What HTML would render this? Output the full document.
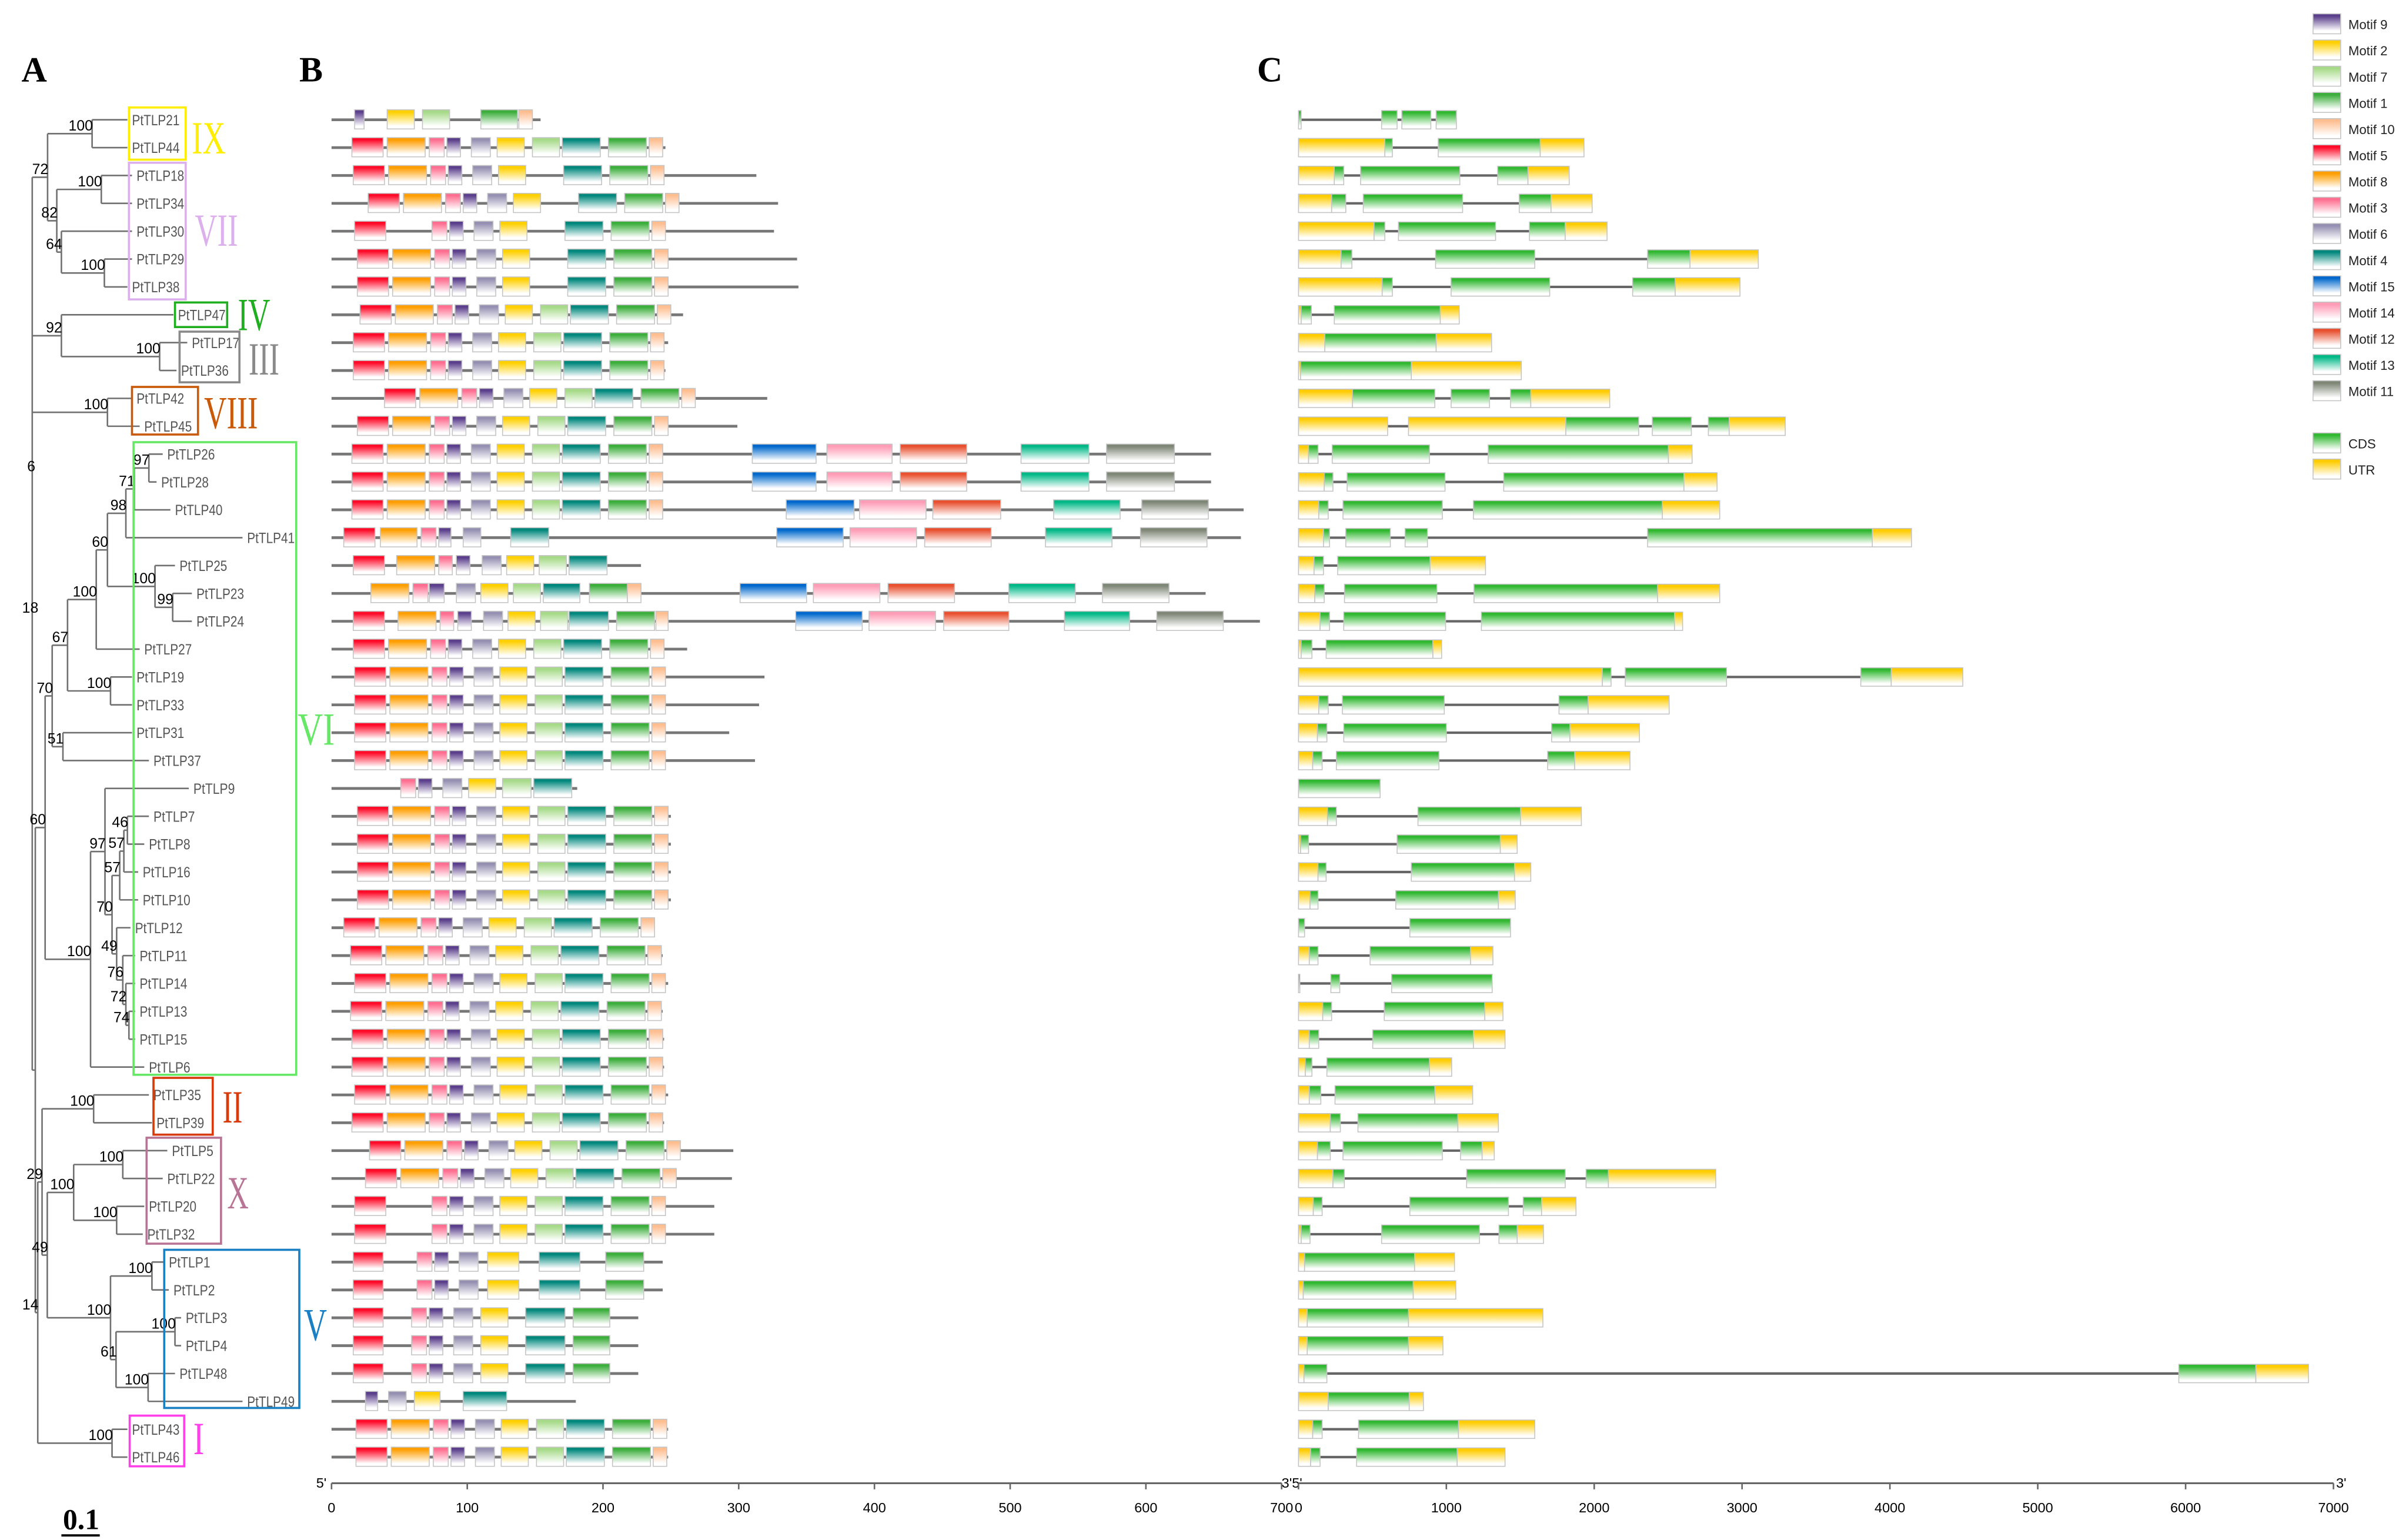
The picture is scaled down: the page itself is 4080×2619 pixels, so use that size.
<!DOCTYPE html>
<html><head><meta charset="utf-8"><title>PtTLP phylogeny, motifs and gene structure</title>
<style>
html,body{margin:0;padding:0;background:#fff;}
svg{display:block;}
</style></head>
<body>
<svg id="fig" xmlns="http://www.w3.org/2000/svg" width="4080" height="2619" viewBox="0 0 1563 1003" preserveAspectRatio="none" font-family="Liberation Sans, sans-serif">
<defs id="defs"></defs>
<rect x="0" y="0" width="1563" height="1003" fill="#fff"/>
<g id="panelA"></g>
<g id="panelB"></g>
<g id="panelC"></g>
<g id="legend"></g>
<text x="14" y="53" font-family="Liberation Serif, serif" font-weight="bold" font-size="23">A</text>
<text x="195" y="53" font-family="Liberation Serif, serif" font-weight="bold" font-size="23">B</text>
<text x="819" y="53" font-family="Liberation Serif, serif" font-weight="bold" font-size="23">C</text>
<text x="41" y="996" font-family="Liberation Serif, serif" font-weight="bold" font-size="19">0.1</text>
<line x1="40" y1="1000" x2="65" y2="1000" stroke="#000" stroke-width="1.5"/>
</svg>
<script>
const genes = ["PtTLP21","PtTLP44","PtTLP18","PtTLP34","PtTLP30","PtTLP29","PtTLP38","PtTLP47","PtTLP17","PtTLP36","PtTLP42","PtTLP45","PtTLP26","PtTLP28","PtTLP40","PtTLP41","PtTLP25","PtTLP23","PtTLP24","PtTLP27","PtTLP19","PtTLP33","PtTLP31","PtTLP37","PtTLP9","PtTLP7","PtTLP8","PtTLP16","PtTLP10","PtTLP12","PtTLP11","PtTLP14","PtTLP13","PtTLP15","PtTLP6","PtTLP35","PtTLP39","PtTLP5","PtTLP22","PtTLP20","PtTLP32","PtTLP1","PtTLP2","PtTLP3","PtTLP4","PtTLP48","PtTLP49","PtTLP43","PtTLP46"];
const labelX = [86,86,89,89,89,89,86,116,125,118,89,94,109,105,114,161,117,128,128,94,89,89,89,100,126,100,97,93,93,88,91,91,91,91,97,100,102,112,109,97,96,110,113,121,121,117,161,86,86];
const protLen = [154,246,313,329,326,343,344,259,248,246,321,299,648,648,672,670,228,644,684,262,319,315,293,312,181,250,250,250,250,238,244,248,244,245,245,248,245,296,295,282,282,244,244,226,226,226,180,248,248];
const motifSets = [
"9:17-24 2:41-61 7:67-87 1:110-137 10:138-148",
"5:15-38 8:41-69 3:72-83 9:85-95 6:103-117 2:122-142 7:148-168 4:170-198 1:204-232 10:234-244",
"5:16-39 8:42-70 3:73-84 9:86-96 6:104-118 2:123-143 4:171-199 1:205-233 10:235-245",
"5:27-50 8:53-81 3:84-95 9:97-107 6:115-129 2:134-154 4:182-210 1:216-244 10:246-256",
"5:17-40 3:74-85 9:87-97 6:105-119 2:124-144 4:172-200 1:206-234 10:236-246",
"5:19-42 8:45-73 3:76-87 9:89-99 6:107-121 2:126-146 4:174-202 1:208-236 10:238-248",
"5:19-42 8:45-73 3:76-87 9:89-99 6:107-121 2:126-146 4:174-202 1:208-236 10:238-248",
"5:21-44 8:47-75 3:78-89 9:91-101 6:109-123 2:128-148 7:154-174 4:176-204 1:210-238 10:240-250",
"5:16-39 8:42-70 3:73-84 9:86-96 6:104-118 2:123-143 7:149-169 4:171-199 1:205-233 10:235-245",
"5:16-39 8:42-70 3:73-84 9:86-96 6:104-118 2:123-143 7:149-169 4:171-199 1:205-233 10:235-245",
"5:39-62 8:65-93 3:96-107 9:109-119 6:127-141 2:146-166 7:172-192 4:194-222 1:228-256 10:258-268",
"5:19-42 8:45-73 3:76-87 9:89-99 6:107-121 2:126-146 7:152-172 4:174-202 1:208-236 10:238-248",
"5:15-38 8:41-69 3:72-83 9:85-95 6:103-117 2:122-142 7:148-168 4:170-198 1:204-232 10:234-244 15:310-357 14:365-413 12:419-468 13:508-558 11:571-621",
"5:15-38 8:41-69 3:72-83 9:85-95 6:103-117 2:122-142 7:148-168 4:170-198 1:204-232 10:234-244 15:310-357 14:365-413 12:419-468 13:508-558 11:571-621",
"5:15-38 8:41-69 3:72-83 9:85-95 6:103-117 2:122-142 7:148-168 4:170-198 1:204-232 10:234-244 15:335-385 14:389-438 12:443-493 13:532-581 11:597-646",
"5:9-32 8:36-63 3:66-77 9:79-88 6:97-110 4:132-160 15:328-377 14:382-431 12:437-486 13:526-575 11:596-645",
"5:16-39 8:48-76 3:79-89 9:92-102 6:111-125 2:129-149 7:153-173 4:175-203",
"8:29-57 3:60-71 9:72-83 6:92-106 2:110-130 7:134-154 4:156-183 1:190-218 10:218-228 15:301-350 14:355-404 12:410-459 13:499-548 11:568-617",
"5:16-39 8:49-77 3:80-90 9:93-103 6:112-126 2:130-150 7:154-174 4:175-204 1:210-238 10:239-248 15:342-391 14:396-445 12:451-499 13:540-588 11:608-657",
"5:16-39 8:42-70 3:73-84 9:86-96 6:104-118 2:123-143 7:149-169 4:171-199 1:205-233 10:235-245",
"5:17-40 8:43-71 3:74-85 9:87-97 6:105-119 2:124-144 7:150-170 4:172-200 1:206-234 10:236-246",
"5:17-40 8:43-71 3:74-85 9:87-97 6:105-119 2:124-144 7:150-170 4:172-200 1:206-234 10:236-246",
"5:17-40 8:43-71 3:74-85 9:87-97 6:105-119 2:124-144 7:150-170 4:172-200 1:206-234 10:236-246",
"5:17-40 8:43-71 3:74-85 9:87-97 6:105-119 2:124-144 7:150-170 4:172-200 1:206-234 10:236-246",
"3:51-62 9:64-74 6:82-96 2:101-121 7:126-147 4:149-177",
"5:19-42 8:45-73 3:76-87 9:89-99 6:107-121 2:126-146 7:152-172 4:174-202 1:208-236 10:238-248",
"5:19-42 8:45-73 3:76-87 9:89-99 6:107-121 2:126-146 7:152-172 4:174-202 1:208-236 10:238-248",
"5:19-42 8:45-73 3:76-87 9:89-99 6:107-121 2:126-146 7:152-172 4:174-202 1:208-236 10:238-248",
"5:19-42 8:45-73 3:76-87 9:89-99 6:107-121 2:126-146 7:152-172 4:174-202 1:208-236 10:238-248",
"5:9-32 8:35-63 3:66-77 9:79-89 6:97-111 2:116-136 7:142-162 4:164-192 1:198-226 10:228-238",
"5:14-37 8:40-68 3:71-82 9:84-94 6:102-116 2:121-141 7:147-167 4:169-197 1:203-231 10:233-243",
"5:17-40 8:43-71 3:74-85 9:87-97 6:105-119 2:124-144 7:150-170 4:172-200 1:206-234 10:236-246",
"5:14-37 8:40-68 3:71-82 9:84-94 6:102-116 2:121-141 7:147-167 4:169-197 1:203-231 10:233-243",
"5:15-38 8:41-69 3:72-83 9:85-95 6:103-117 2:122-142 7:148-168 4:170-198 1:204-232 10:234-244",
"5:15-38 8:41-69 3:72-83 9:85-95 6:103-117 2:122-142 7:148-168 4:170-198 1:204-232 10:234-244",
"5:17-40 8:43-71 3:74-85 9:87-97 6:105-119 2:124-144 7:150-170 4:172-200 1:206-234 10:236-246",
"5:15-38 8:41-69 3:72-83 9:85-95 6:103-117 2:122-142 7:148-168 4:170-198 1:204-232 10:234-244",
"5:28-51 8:54-82 3:85-96 9:98-108 6:116-130 2:135-155 7:161-181 4:183-211 1:217-245 10:247-257",
"5:25-48 8:51-79 3:82-93 9:95-105 6:113-127 2:132-152 7:158-178 4:180-208 1:214-242 10:244-254",
"5:17-40 3:74-85 9:87-97 6:105-119 2:124-144 7:150-170 4:172-200 1:206-234 10:236-246",
"5:17-40 3:74-85 9:87-97 6:105-119 2:124-144 7:150-170 4:172-200 1:206-234 10:236-246",
"5:16-38 3:63-74 9:76-86 6:94-108 2:115-138 4:153-183 1:202-230",
"5:16-38 3:63-74 9:76-86 6:94-108 2:115-138 4:153-183 1:202-230",
"5:16-38 3:59-70 9:72-82 6:90-104 2:110-130 4:143-172 1:178-205",
"5:16-38 3:59-70 9:72-82 6:90-104 2:110-130 4:143-172 1:178-205",
"5:16-38 3:59-70 9:72-82 6:90-104 2:110-130 4:143-172 1:178-205",
"9:25-34 6:42-55 2:61-80 4:97-129",
"5:18-41 8:44-72 3:75-86 9:88-98 6:106-120 2:125-145 7:151-171 4:173-201 1:207-235 10:237-247",
"5:18-41 8:44-72 3:75-86 9:88-98 6:106-120 2:125-145 7:151-171 4:173-201 1:207-235 10:237-247"
];
const geneStruct = [
"C0-18 C562-667 C699-895 C931-1068","U0-584 C584-635 C945-1635 U1635-1931","U0-242 C242-306 C420-1091 C1347-1552 U1552-1831","U0-224 C224-320 C438-1110 C1493-1708 U1708-1986","U0-511 C511-584 C676-1333 C1562-1804 U1804-2087","U0-288 C288-361 C927-1598 C2361-2648 U2648-3110","U0-566 C566-635 C1032-1699 C2260-2548 U2548-2986","U0-18 C18-87 C242-959 U959-1087","U0-178 C178-931 U931-1306","U0-14 C14-763 U763-1507","U0-365 C365-922 C1032-1292 C1434-1571 U1571-2105","U0-603 U744-1808 C1808-2301 C2393-2657 C2772-2913 U2913-3292","U0-68 C68-132 C228-886 C1283-2502 U2502-2662","U0-174 C174-233 C329-991 C1388-2607 U2607-2831","U0-137 C137-201 C301-973 C1183-2461 U2461-2849","U0-169 C169-210 C320-621 C721-872 C2361-3881 U3881-4146","U0-105 C105-169 C265-890 U890-1265","U0-110 C110-174 C311-936 C1187-2429 U2429-2849","U0-146 C146-210 C306-995 C1237-2543 U2543-2598","U0-18 C18-91 C187-909 U909-968","U0-2055 C2055-2114 C2210-2895 C3803-4009 U4009-4493","U0-137 C137-201 C297-986 C1762-1959 U1959-2507","U0-128 C128-192 C306-1000 C1712-1836 U1836-2306","U0-96 C96-160 C256-950 C1685-1868 U1868-2242","C0-552","U0-196 C196-256 C808-1502 U1502-1913","U0-14 C14-68 C667-1365 U1365-1479","U0-132 C132-187 C763-1461 U1461-1571","U0-78 C78-132 C658-1352 U1352-1466","C0-41 C753-1434","U0-73 C73-132 C484-1164 U1164-1315","C0-9 C219-279 C630-1310","U0-164 C164-224 C580-1260 U1260-1383","U0-73 C73-137 C502-1183 U1183-1397","U0-46 C46-91 C192-886 U886-1036","U0-73 C73-151 C247-922 U922-1178","U0-215 C215-283 C402-1078 U1078-1352","U0-128 C128-215 C301-973 C1096-1242 U1242-1324","U0-233 C233-310 C1137-1804 C1945-2096 U2096-2822","U0-100 C100-160 C753-1420 C1520-1644 U1644-1877","U0-18 C18-78 C562-1224 C1356-1479 U1479-1657","U0-41 C41-785 U785-1055","U0-32 C32-776 U776-1064","U0-59 C59-744 U744-1653","U0-59 C59-744 U744-977","U0-37 C37-192 C5954-6475 U6475-6831","U0-201 C201-749 U749-845","U0-96 C96-160 C406-1082 U1082-1598","U0-82 C82-146 C393-1073 U1073-1397"
];
const legendMotifs = [9,2,7,1,10,5,8,3,6,4,15,14,12,13,11];
const motifColors = {9:"#5b3f8c",2:"#ffd000",7:"#a6da88",1:"#3cae3c",10:"#ffbe90",5:"#ff0a28",8:"#ff9e00",3:"#ff6e90",6:"#9590b2",4:"#00877c",15:"#0068cc",14:"#ff9cb6",12:"#e8502f",13:"#00b886",11:"#7e8676",C:"#30b830",U:"#ffcc00"};
const ticksB = [0,100,200,300,400,500,600,700];
const ticksC = [0,1000,2000,3000,4000,5000,6000,7000];

const NS = "http://www.w3.org/2000/svg";
function mk(tag, attrs, parent){const e=document.createElementNS(NS,tag);for(const k in attrs)e.setAttribute(k,attrs[k]);if(parent)parent.appendChild(e);return e;}
const rowY = i => 78 + i*18.146;
const xB = aa => 216 + aa*0.8843;
const xC = bp => 846 + bp*(674.3/7000);

const defs=document.getElementById('defs');
for(const k in motifColors){
  const g=mk('linearGradient',{id:'g'+k,x1:0,y1:0,x2:0,y2:1},defs);
  mk('stop',{offset:'0','stop-color':motifColors[k]},g);
  mk('stop',{offset:'0.12','stop-color':motifColors[k]},g);
  mk('stop',{offset:'0.85','stop-color':'#ffffff'},g);
  mk('stop',{offset:'1','stop-color':'#ffffff'},g);
}

// ---------- Panel A: tree ----------
const A=document.getElementById('panelA');
function N(x,b,c){return {x:x,b:b,c:c};}
const tree = N(21,'',[
  N(31,'72',[N(60,'100',[0,1]), N(37,'82',[N(66,'100',[2,3]), N(40,'64',[4, N(68,'100',[5,6])])])]),
  N(40,'92',[7, N(104,'100',[8,9])]),
  N(70,'100',[10,11]),
  N(23,'',[
    N(29.4,'60',[
      N(34,'70',[
        N(44,'67',[
          N(62.7,'100',[
            N(70,'60',[
              N(82,'98',[N(87.5,'71',[N(97,'97',[12,13]),14]),15]),
              N(101,'100',[16, N(112.5,'99',[17,18])])
            ]),
            19]),
          N(72,'100',[20,21])
        ]),
        N(41,'51',[22,23])
      ]),
      N(59,'100',[
        N(68.4,'97',[24,
          N(73,'70',[
            N(78,'57',[N(80.7,'57',[N(83,'46',[25,26]),27]),28]),
            N(76,'49',[29, N(80,'76',[30, N(82,'72',[31, N(84,'74',[32,33])])])])
          ])
        ]),
        34])
    ]),
    N(24.6,'14',[
      N(27.4,'29',[
        N(61,'100',[35,36]),
        N(30.8,'49',[
          N(48,'100',[N(80,'100',[37,38]), N(76,'100',[39,40])]),
          N(72,'100',[N(99,'100',[41,42]), N(75.6,'61',[N(114,'100',[43,44]), N(96.5,'100',[45,46])])])
        ])
      ]),
      N(73,'100',[47,48])
    ])
  ])
]);
function nodeY(n){ if(typeof n==='number') return rowY(n); const ys=n.c.map(nodeY); n.y=(ys[0]+ys[ys.length-1])/2; return n.y; }
nodeY(tree);
function drawNode(n){
  const ys=n.c.map(c=>typeof c==='number'?rowY(c):c.y);
  const v=mk('line',{x1:n.x,y1:ys[0],x2:n.x,y2:ys[ys.length-1],stroke:'#707070','stroke-width':1},A);
  
  
  n.c.forEach((c,i)=>{
    const tx = typeof c==='number' ? labelX[c]-3 : c.x;
    const h=mk('line',{x1:n.x,y1:ys[i],x2:tx,y2:ys[i],stroke:'#707070','stroke-width':1},A);
    
    
    if(typeof c!=='number') drawNode(c);
  });
  if(n.b){
    const t=mk('text',{x:n.x+0.5,y:n.y-2,'text-anchor':'end','font-size':9.5,fill:'#000'},A);
    t.textContent=n.b;
    
    
  }
}
drawNode(tree);
[['6',23,307],['18',25,399]].forEach(b=>{
  const t=mk('text',{x:b[1],y:b[2],'text-anchor':'end','font-size':9.5},A);
  t.textContent=b[0];
  
  
});
genes.forEach((g,i)=>{
  const t=mk('text',{x:labelX[i],y:rowY(i)+3.5,'font-size':9.5,fill:'#555',textLength:(g.length>6?31:27),lengthAdjust:'spacingAndGlyphs'},A);
  t.textContent=g;
  
  
});
const groups=[
  ['IX','#ffee00',84,70,121,104,125,100,22],
  ['VII','#dcb0ec',84,106,121,195,127,160,28],
  ['IV','#1fae1f',114,197,148,213,155,215,21],
  ['III','#8a8a8a',117,216,156,249,162,244,20],
  ['VIII','#c85a0a',86,252,129,283,133,279,35],
  ['VI','#66e866',87,288,193,700,194,485,24],
  ['II','#d83a0a',100,702,138.6,739,145,731,13],
  ['X','#b87494',95.5,741,144,810,148,787,14],
  ['V','#1b7fc4',107,814,195,917,198,873,15],
  ['I','#ff3fe8',84.5,922,120,955,126,947,7]
];
groups.forEach(gr=>{
  const r=mk('rect',{x:gr[2],y:gr[3],width:gr[4]-gr[2],height:gr[5]-gr[3],fill:'none',stroke:gr[1],'stroke-width':1.4},A);
  
  
  const t=mk('text',{x:gr[6],y:gr[7],'font-family':'Liberation Serif, serif','font-size':30,fill:gr[1],textLength:gr[8],lengthAdjust:'spacingAndGlyphs'},A);
  t.textContent=gr[0];
  
  
});

// ---------- Panel B: motifs ----------
const B=document.getElementById('panelB');
genes.forEach((g,i)=>{
  const y=rowY(i);
  const row=mk('g',{},B);
  
  
  const ln=mk('line',{x1:xB(0),y1:y,x2:xB(protLen[i]),y2:y,stroke:'#777','stroke-width':1.8},row);
  
  
  motifSets[i].split(' ').forEach(s=>{
    const p=s.split(':'); const id=p[0]; const se=p[1].split('-').map(Number);
    const r=mk('rect',{x:xB(se[0]),y:y-6.5,width:xB(se[1])-xB(se[0]),height:12.5,fill:'url(#g'+id+')',stroke:'#c4c4c4','stroke-width':0.6},row);
    
    
  });
});
{
  const ax=mk('g',{},B);
  
  
  mk('line',{x1:xB(0),y1:966,x2:xB(700),y2:966,stroke:'#666','stroke-width':1.2},ax);
  ticksB.forEach(v=>{
    mk('line',{x1:xB(v),y1:966,x2:xB(v),y2:970,stroke:'#666','stroke-width':1},ax);
    const t=mk('text',{x:xB(v),y:985,'text-anchor':'middle','font-size':9},ax);
    t.textContent=v;
    
    
  });
  const t1=mk('text',{x:206,y:969,'font-size':9},ax);t1.textContent="5'";
  const t2=mk('text',{x:835,y:969,'font-size':9},ax);t2.textContent="3'5'";
}

// ---------- Panel C: gene structure ----------
const C=document.getElementById('panelC');
genes.forEach((g,i)=>{
  const y=rowY(i);
  const row=mk('g',{},C);
  
  
  const segs=geneStruct[i].split(' ').map(s=>{const se=s.slice(1).split('-').map(Number);return {t:s[0],a:se[0],b:se[1]};});
  const end=Math.max(...segs.map(s=>s.b));
  const ln=mk('line',{x1:xC(0),y1:y,x2:xC(end),y2:y,stroke:'#666','stroke-width':1.6},row);
  
  
  segs.forEach(s=>{
    const r=mk('rect',{x:xC(s.a),y:y-6,width:Math.max(0.8,xC(s.b)-xC(s.a)),height:12,fill:'url(#g'+s.t+')',stroke:'#c4c4c4','stroke-width':0.6},row);
    
    
  });
});
{
  const ax=mk('g',{},C);
  
  
  mk('line',{x1:xC(0),y1:966,x2:xC(7000),y2:966,stroke:'#666','stroke-width':1.2},ax);
  ticksC.forEach(v=>{
    mk('line',{x1:xC(v),y1:966,x2:xC(v),y2:970,stroke:'#666','stroke-width':1},ax);
    const t=mk('text',{x:xC(v),y:985,'text-anchor':'middle','font-size':9},ax);
    t.textContent=v;
    
    
  });
  const t3=mk('text',{x:1522,y:969,'font-size':9},ax);t3.textContent="3'";
}

// ---------- Legend ----------
const L=document.getElementById('legend');
legendMotifs.forEach((m,i)=>{
  const yc=16+i*17.07;
  const r=mk('rect',{x:1507,y:yc-7,width:18,height:13,fill:'url(#g'+m+')',stroke:'#c4c4c4','stroke-width':0.6},L);
  
  
  const t=mk('text',{x:1530,y:yc+3,'font-size':8.5,fill:'#222'},L);
  t.textContent='Motif '+m;
  
  
});
[['C','CDS',289],['U','UTR',306]].forEach(e=>{
  const r=mk('rect',{x:1507,y:e[2]-7,width:18,height:13,fill:'url(#g'+e[0]+')',stroke:'#c4c4c4','stroke-width':0.6},L);
  
  
  const t=mk('text',{x:1530,y:e[2]+3,'font-size':8.5,fill:'#222'},L);
  t.textContent=e[1];
  
  
});
</script>
</body></html>
